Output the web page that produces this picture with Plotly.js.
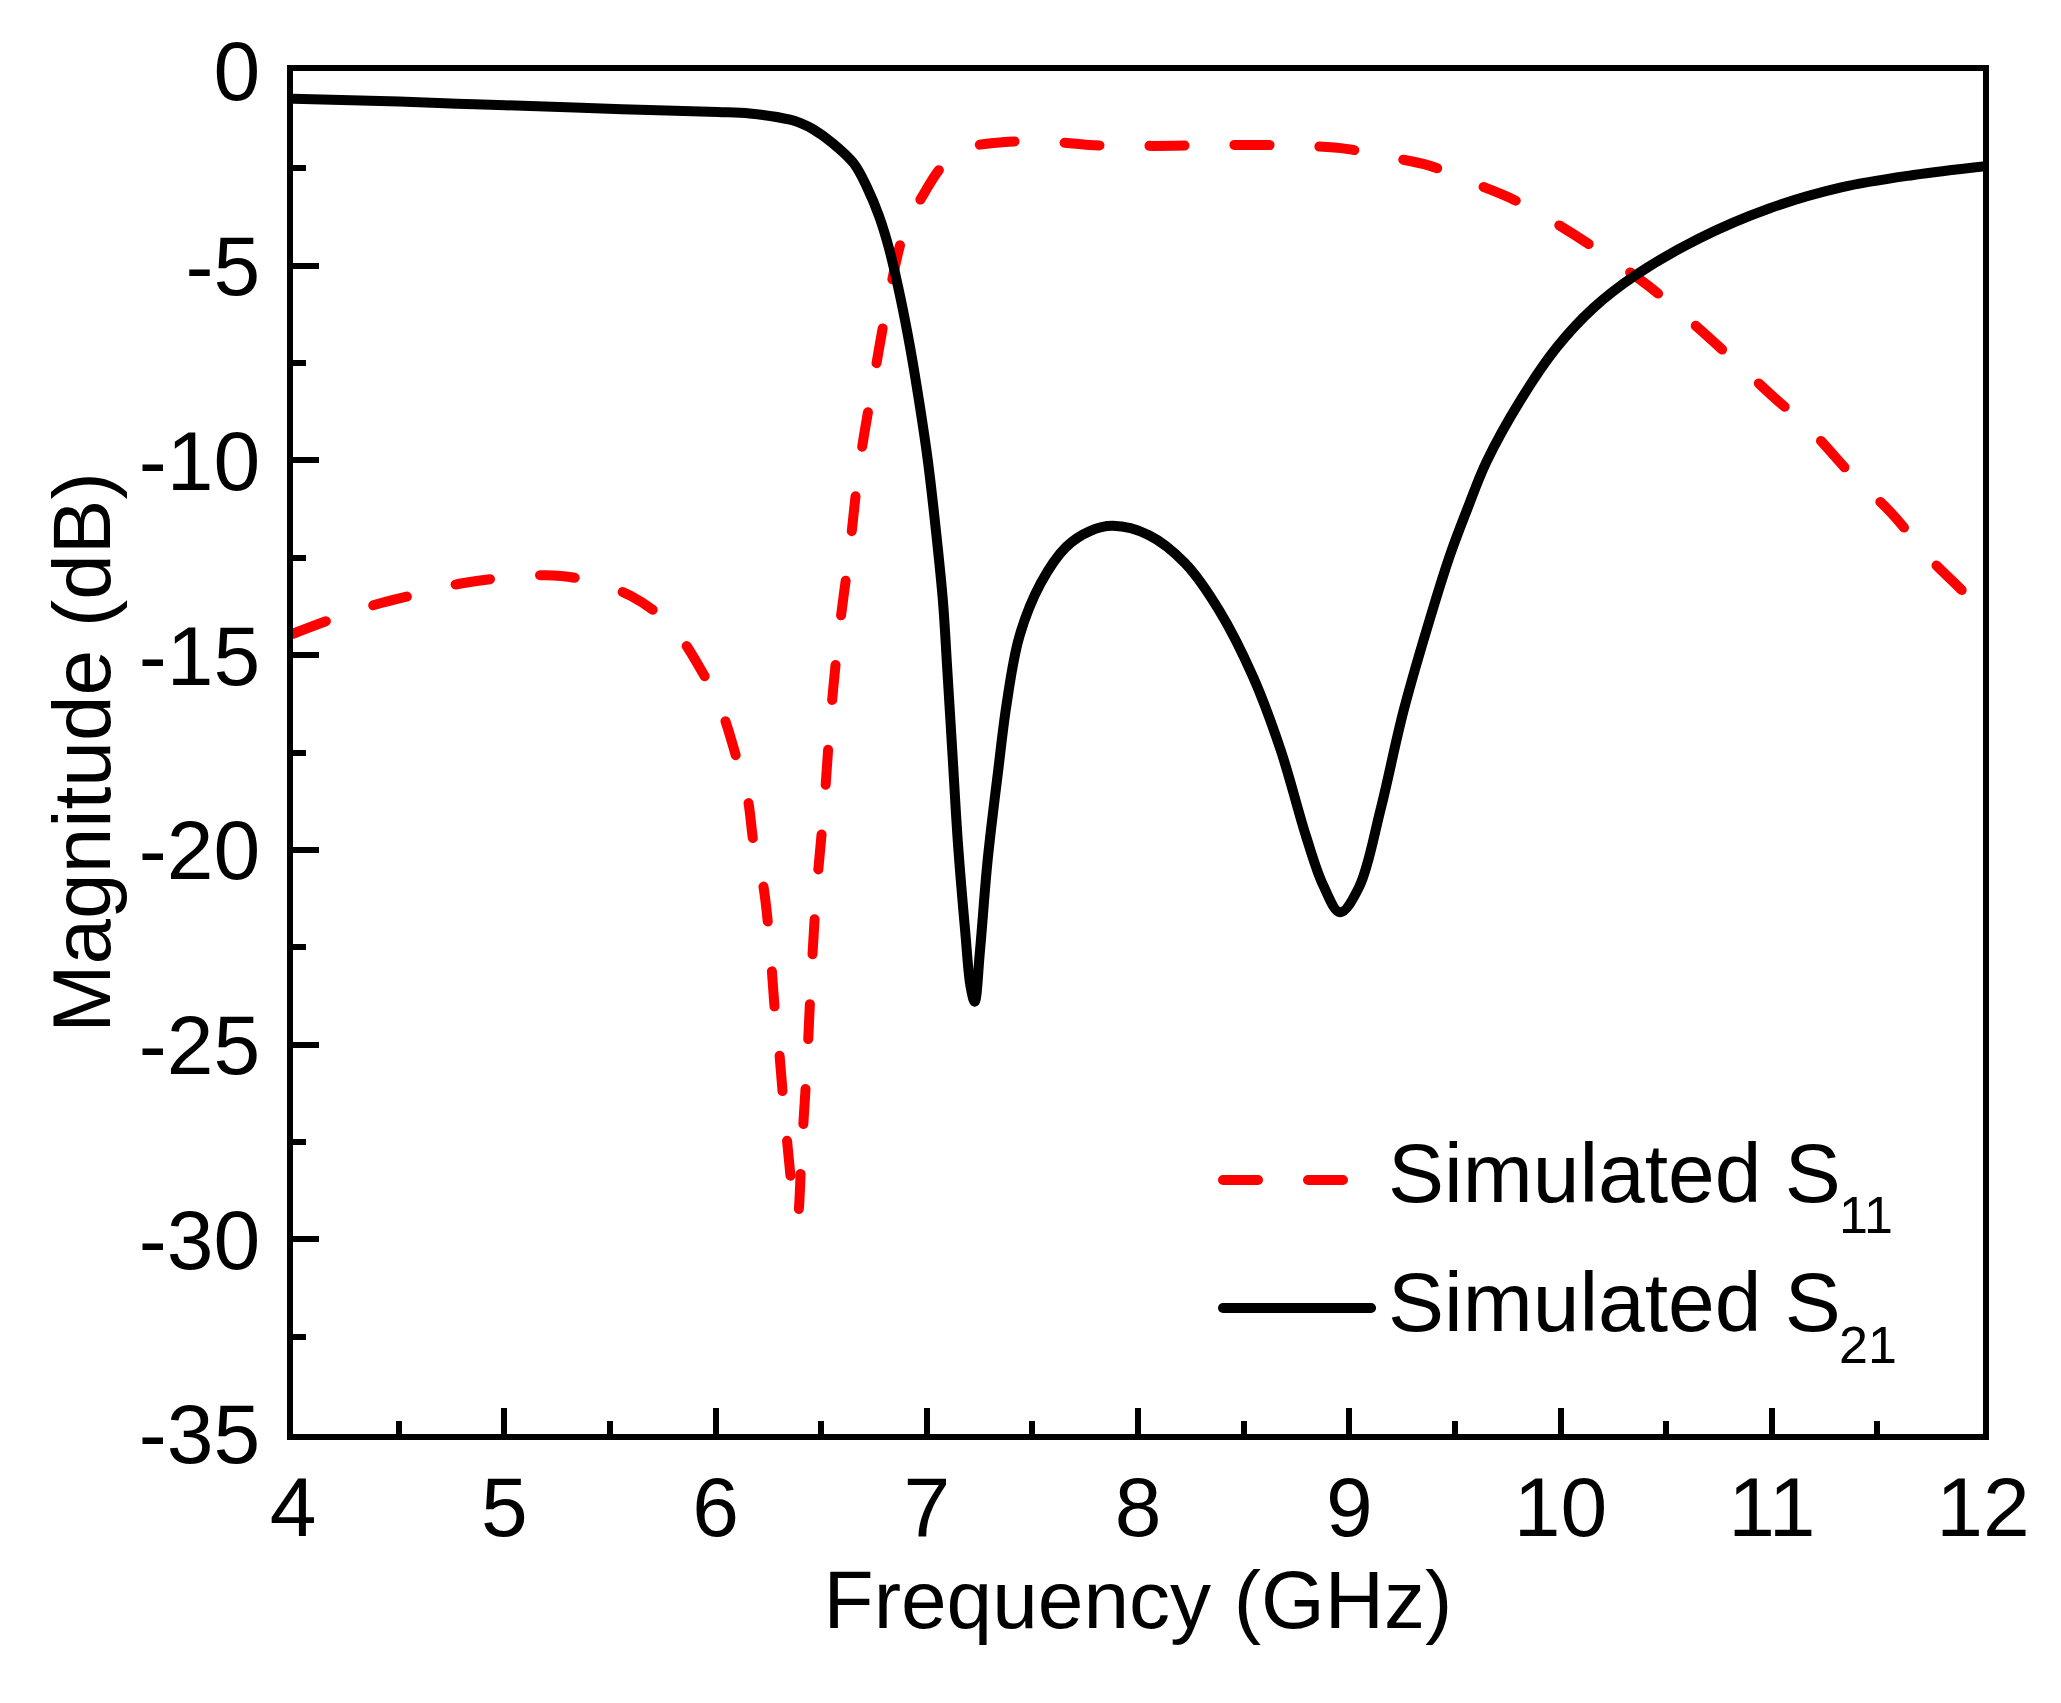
<!DOCTYPE html>
<html>
<head>
<meta charset="utf-8">
<script src="https://cdn.plot.ly/plotly-3.0.1.min.js"></script>
<style>
  html, body { margin: 0; padding: 0; background: #fff; }
  #chart { width: 2061px; height: 1703px; }
  /* rounded dash ends like the original plot */
  .scatterlayer .js-line, .shapelayer path { stroke-linecap: round; }
</style>
</head>
<body>
<div id="chart"></div>
<script>
// S11 (red dashed)
var s11Freq = [4.0, 4.171, 4.392, 4.583, 4.794, 4.985, 5.196, 5.387, 5.599, 5.79,
    5.94, 6.031, 6.101, 6.152, 6.182, 6.222, 6.252, 6.282, 6.302, 6.322,
    6.343, 6.363, 6.388, 6.408, 6.433, 6.453, 6.478, 6.514, 6.544, 6.584,
    6.634, 6.681, 6.747, 6.821, 6.896, 6.991, 7.066, 7.157, 7.358, 7.569,
    7.77, 7.961, 8.172, 8.363, 8.585, 8.776, 8.987, 9.178, 9.379, 9.58,
    9.781, 10.002, 10.193, 10.414, 10.595, 10.807, 10.998, 11.189, 11.38, 11.561,
    11.752, 11.933, 12.0];
var s11Mag = [-14.45, -14.1, -13.7, -13.44, -13.16, -13.02, -12.95, -13.07, -13.48, -14.25,
    -15.46, -16.46, -17.67, -18.67, -19.88, -20.78, -22.09, -24.2, -25.2, -26.51,
    -27.71, -28.72, -29.42, -27.71, -25.5, -23.29, -21.08, -18.87, -16.66, -14.45,
    -12.34, -10.13, -7.98, -5.78, -4.09, -3.11, -2.49, -2.03, -1.83, -1.81,
    -1.9, -1.92, -1.92, -1.9, -1.9, -1.92, -2.0, -2.2, -2.43, -2.86,
    -3.31, -3.99, -4.66, -5.51, -6.33, -7.36, -8.32, -9.25, -10.38, -11.32,
    -12.54, -13.53, -14.05];

// S21 (black solid)
var s21Freq = [4.0, 4.503, 4.774, 5.005, 5.558, 6.011, 6.162, 6.353, 6.403, 6.463,
    6.554, 6.654, 6.715, 6.775, 6.825, 6.875, 6.921, 6.966, 7.006, 7.046,
    7.077, 7.097, 7.122, 7.147, 7.182, 7.207, 7.227, 7.252, 7.288, 7.338,
    7.378, 7.438, 7.539, 7.66, 7.77, 7.881, 8.052, 8.223, 8.384, 8.544,
    8.675, 8.796, 8.876, 8.956, 9.047, 9.148, 9.258, 9.399, 9.479, 9.56,
    9.65, 9.811, 9.982, 10.153, 10.354, 10.656, 10.988, 11.329, 11.671, 12.0];
var s21Mag = [-0.71, -0.78, -0.84, -0.88, -0.98, -1.05, -1.09, -1.25, -1.34, -1.5,
    -1.85, -2.37, -2.96, -3.74, -4.63, -5.81, -7.09, -8.56, -10.04, -11.93,
    -13.64, -15.35, -17.56, -19.78, -22.09, -23.5, -23.9, -22.59, -20.28, -17.97,
    -16.26, -14.53, -13.16, -12.22, -11.82, -11.68, -11.92, -12.64, -13.85, -15.55,
    -17.43, -19.66, -20.9, -21.6, -20.95, -18.97, -16.41, -13.76, -12.4, -11.23,
    -10.03, -8.45, -7.1, -6.1, -5.25, -4.3, -3.53, -2.99, -2.67, -2.45];

// axis ticks
var xTickVals = [4, 5, 6, 7, 8, 9, 10, 11, 12];
var xTickText = ["4", "5", "6", "7", "8", "9", "10", "11", "12"];
var yTickVals = [0, -5, -10, -15, -20, -25, -30, -35];
var yTickText = ["0", "-5", "-10", "-15", "-20", "-25", "-30", "-35"];

// legend labels: main text and its subscript
var legendNames = ["Simulated S", "Simulated S"];
var legendSubs = ["11", "21"];

var fontFamily = "Liberation Sans, Arial, sans-serif";
var dashPattern = "35px,50px";

var traces = [
    {
        name: "S11",
        x: s11Freq,
        y: s11Mag,
        type: "scatter",
        mode: "lines",
        line: { color: "#ff0000", width: 10, dash: dashPattern, shape: "spline", smoothing: 1 }
    },
    {
        name: "S21",
        x: s21Freq,
        y: s21Mag,
        type: "scatter",
        mode: "lines",
        line: { color: "#000000", width: 10, shape: "spline", smoothing: 1 }
    }
];

var axisCommon = {
    showline: true,
    linecolor: "#000",
    linewidth: 6,
    mirror: true,
    showgrid: false,
    zeroline: false,
    ticks: "inside",
    ticklen: 26,
    tickwidth: 6,
    tickcolor: "#000",
    tickfont: { family: fontFamily, size: 84, color: "#000" }
};

// legend rows (paper coordinates)
var rowLineY = [0.1864, 0.0924];
var rowTextY = [0.1915, 0.0968];
var rowSubY = [0.1608, 0.0653];
var legendColors = ["#ff0000", "#000000"];

var shapes = [];
var annotations = [];
for (var i = 0; i < 2; i++) {
    shapes.push({
        type: "line", xref: "paper", yref: "paper",
        x0: 0.5503, x1: 0.6379, y0: rowLineY[i], y1: rowLineY[i],
        line: { color: legendColors[i], width: 10, dash: i === 0 ? dashPattern : "solid" }
    });
    annotations.push({
        xref: "paper", yref: "paper", x: 0.6468, y: rowTextY[i],
        xanchor: "left", yanchor: "middle", showarrow: false,
        text: legendNames[i],
        font: { family: fontFamily, size: 84, color: "#000" }
    });
    annotations.push({
        xref: "paper", yref: "paper", x: 0.9135, y: rowSubY[i],
        xanchor: "left", yanchor: "middle", showarrow: false,
        text: legendSubs[i],
        font: { family: fontFamily, size: 52, color: "#000" }
    });
}

var layout = {
    width: 2061,
    height: 1703,
    margin: { l: 293, r: 78, t: 71, b: 269 },
    paper_bgcolor: "#fff",
    plot_bgcolor: "#fff",
    showlegend: false,
    font: { family: fontFamily, color: "#000" },
    xaxis: Object.assign({}, axisCommon, {
        range: [4, 12],
        tickmode: "array",
        tickvals: xTickVals,
        ticktext: xTickText,
        ticklabelstandoff: -5,
        minor: { ticks: "inside", ticklen: 13, tickwidth: 6, tickcolor: "#000", dtick: 0.5, tick0: 4 },
        title: { text: "Frequency (GHz)", font: { family: fontFamily, size: 82, color: "#000" }, standoff: 17 }
    }),
    yaxis: Object.assign({}, axisCommon, {
        range: [-35, 0],
        tickmode: "array",
        tickvals: yTickVals,
        ticktext: yTickText,
        ticklabelstandoff: 10,
        minor: { ticks: "inside", ticklen: 13, tickwidth: 6, tickcolor: "#000", dtick: 2.5, tick0: 0 },
        title: { text: "Magnitude (dB)", font: { family: fontFamily, size: 82, color: "#000" }, standoff: 3 }
    }),
    shapes: shapes,
    annotations: annotations
};

Plotly.newPlot("chart", traces, layout, { displayModeBar: false, staticPlot: true });
</script>
</body>
</html>
